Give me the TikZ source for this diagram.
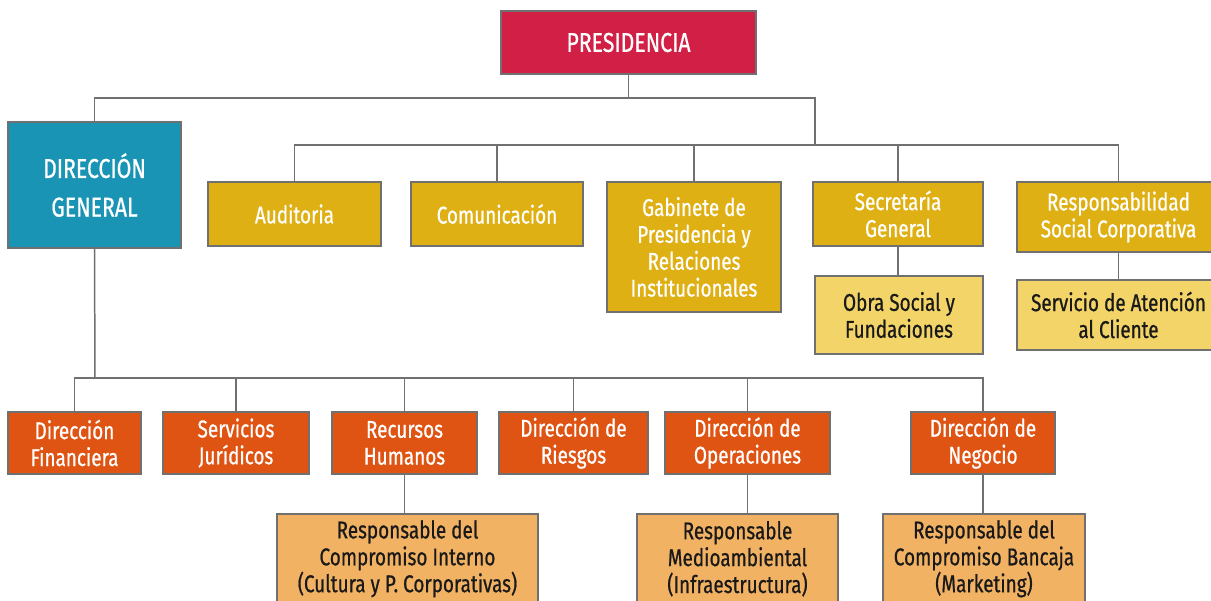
\documentclass[tikz,border=0pt]{standalone}
\usepackage{fontspec}
\setmainfont{Fira Sans}[FakeStretch=0.78, FakeBold=0.7]
\usepackage{tikz}
\usetikzlibrary{positioning}

\definecolor{presred}{RGB}{209,31,69}
\definecolor{dgteal}{RGB}{26,148,180}
\definecolor{areagold}{RGB}{223,176,19}
\definecolor{subyellow}{RGB}{243,212,105}
\definecolor{dirorange}{RGB}{223,84,18}
\definecolor{resporange}{RGB}{242,178,100}
\definecolor{edgegray}{RGB}{112,112,112}

\begin{document}
\begin{tikzpicture}[x=0.02cm, y=-0.02cm,
    box/.style={draw=edgegray, line width=0.9pt, align=center, inner sep=1pt, font=\fontsize{13.8}{15.3}\selectfont},
    topbox/.style={box, text=white, font=\fontsize{15.5}{22}\selectfont},
    areabox/.style={box, fill=areagold, text=white, minimum height=1.28cm},
    subbox/.style={box, fill=subyellow, text=black!90},
    dirbox/.style={box, fill=dirorange, text=white, minimum height=1.24cm},
    respbox/.style={box, fill=resporange, text=black!90, anchor=north, minimum height=1.8cm},
    link/.style={draw=edgegray, line width=0.85pt}]
      \clip (0,0) rectangle (1211,601);
      \fill[white] (0,0) rectangle (1211,601);
      \node[topbox, fill=presred, minimum width=5.1cm, minimum height=1.26cm] (pres) at (628.5,42.5) {PRESIDENCIA};
      \node[topbox, fill=dgteal, minimum width=3.46cm, minimum height=2.52cm] (dg) at (94.5,185) {DIRECCIÓN\\GENERAL};
      \node[areabox, minimum width=3.46cm] (aud) at (294.5,214) {Auditoria};
      \node[areabox, minimum width=3.44cm] (com) at (497,214) {Comunicación};
      \node[areabox, minimum width=3.48cm, minimum height=2.6cm] (gab) at (694,247) {Gabinete de\\Presidencia y\\Relaciones\\Institucionales};
      \node[areabox, minimum width=3.4cm] (sec) at (898,214) {Secretaría\\General};
      \node[areabox, minimum width=4.06cm, minimum height=1.4cm] (rsc) at (1118.5,217) {Responsabilidad\\Social Corporativa};
      \node[subbox, minimum width=3.36cm, minimum height=1.56cm] (obra) at (899,315) {Obra Social y\\Fundaciones};
      \node[subbox, minimum width=4.06cm, minimum height=1.4cm] (sac) at (1118.5,315) {Servicio de Atención\\al Cliente};
      \node[dirbox, minimum width=2.66cm] (fin) at (74.5,443) {Dirección\\Financiera};
      \node[dirbox, minimum width=2.92cm] (jur) at (236,443) {Servicios\\Jurídicos};
      \node[dirbox, minimum width=2.9cm] (rh) at (404.5,443) {Recursos\\Humanos};
      \node[dirbox, minimum width=2.98cm] (rie) at (573.5,443) {Dirección de\\Riesgos};
      \node[dirbox, minimum width=3.3cm] (ope) at (747.5,443) {Dirección de\\Operaciones};
      \node[dirbox, minimum width=2.88cm] (neg) at (983,443) {Dirección de\\Negocio};
      \node[respbox, minimum width=5.22cm] (ci) at (407.5,513) {Responsable del\\Compromiso Interno\\(Cultura y P. Corporativas)};
      \node[respbox, minimum width=4.02cm] (ma) at (737.5,513) {Responsable\\Medioambiental\\(Infraestructura)};
      \node[respbox, minimum width=4.04cm] (bk) at (984,513) {Responsable del\\Compromiso Bancaja\\(Marketing)};
      \coordinate (hub) at (815,145);
      \coordinate (bus) at (95,378);
      \draw[link] (pres.south) -- ++(0,23) -| (dg.north);
      \draw[link] (pres.south) -- ++(0,23) -| (hub);
      \foreach \n in {aud,com,gab,sec,rsc}
        \draw[link] (hub) -| (\n.north);
      \draw[link] (dg.south) -- (bus);
      \foreach \n in {fin,jur,rh,rie,ope,neg}
        \draw[link] (bus) -| (\n.north);
      \draw[link] (sec.south) -- (sec.south |- obra.north);
      \draw[link] (rsc.south) -- (sac.north);
      \draw[link] (rh.south) -- (rh.south |- ci.north);
      \draw[link] (ope.south) -- (ope.south |- ma.north);
      \draw[link] (neg.south) -- (neg.south |- bk.north);
    \end{tikzpicture}
\end{document}
